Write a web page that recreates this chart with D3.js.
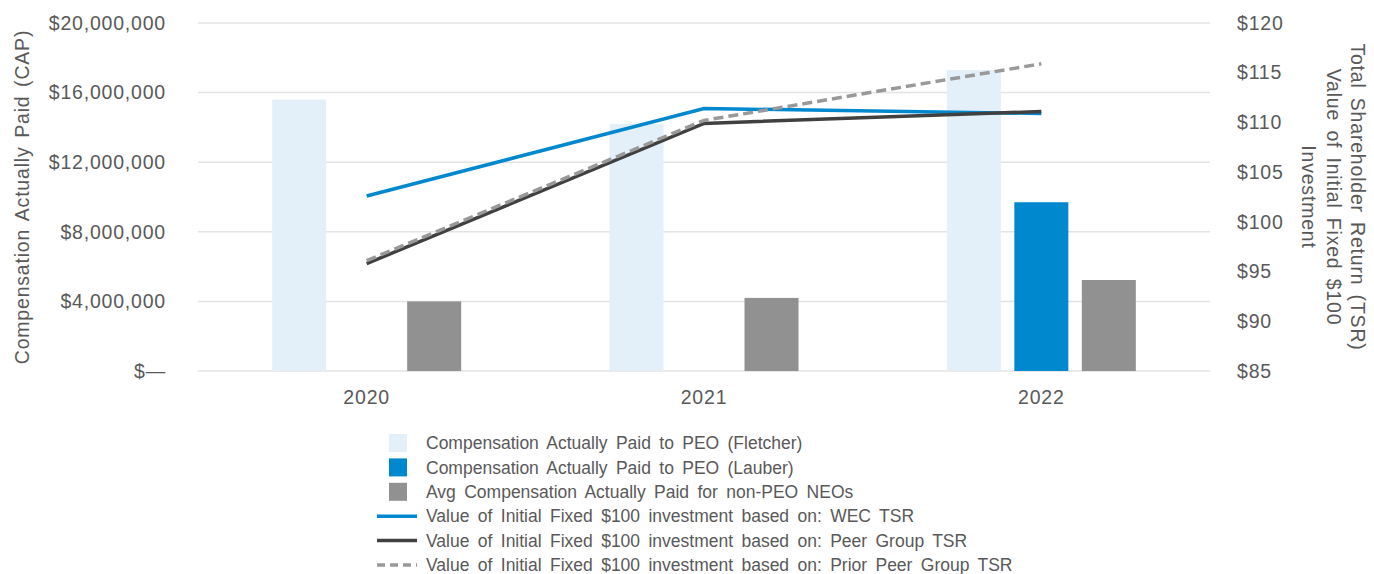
<!DOCTYPE html>
<html>
<head>
<meta charset="utf-8">
<script src="https://cdn.jsdelivr.net/npm/d3@7"></script>
<style>
  html, body { margin: 0; padding: 0; background: #fff; }
  svg { display: block; font-family: "Liberation Sans", Arial, sans-serif; }
</style>
</head>
<body>
<svg id="chart" width="1374" height="574"></svg>
<script>
const categories = ["2020", "2021", "2022"];
const fletcherCAP = [15600000, 14200000, 17300000];
const lauberCAP = [null, null, 9700000];
const neoCAP = [4000000, 4200000, 5230000];
const wecTSR = [102.6, 111.4, 110.9];
const peerTSR = [95.8, 109.9, 111.1];
const priorPeerTSR = [96.1, 110.2, 115.9];
const leftTicks = [0, 4000000, 8000000, 12000000, 16000000, 20000000];
const rightTicks = [85, 90, 95, 100, 105, 110, 115, 120];

const barSeries = [
  { name: "Compensation Actually Paid to PEO (Fletcher)", values: fletcherCAP, color: "#e3f0f9" },
  { name: "Compensation Actually Paid to PEO (Lauber)", values: lauberCAP, color: "#0088ce" },
  { name: "Avg Compensation Actually Paid for non-PEO NEOs", values: neoCAP, color: "#919191" }
];
const lineSeries = [
  { name: "Value of Initial Fixed $100 investment based on: WEC TSR", values: wecTSR, color: "#0088ce", dash: null },
  { name: "Value of Initial Fixed $100 investment based on: Peer Group TSR", values: peerTSR, color: "#404040", dash: null },
  { name: "Value of Initial Fixed $100 investment based on: Prior Peer Group TSR", values: priorPeerTSR, color: "#999999", dash: "10,5" }
];

const textColor = "#595959";
const svg = d3.select("#chart");
const plot = { left: 198, right: 1210, top: 23, bottom: 371 };

const x = d3.scaleBand().domain(categories).range([plot.left, plot.right]).paddingInner(0).paddingOuter(0);
const x1 = d3.scaleBand().domain(barSeries.map(s => s.name)).range([-94.5, 94.5]).paddingInner(0.2).paddingOuter(0);
const yL = d3.scaleLinear().domain([0, 20000000]).range([plot.bottom, plot.top]);
const yR = d3.scaleLinear().domain([85, 120]).range([plot.bottom, plot.top]);

function styleAxisText(sel) {
  sel.attr("fill", textColor).attr("font-size", 19.5)
    .attr("font-family", "Liberation Sans, Arial, sans-serif")
    .attr("letter-spacing", 0.8);
}

// gridlines
svg.append("g").selectAll("line").data(leftTicks).join("line")
  .attr("x1", plot.left).attr("x2", plot.right)
  .attr("y1", d => yL(d)).attr("y2", d => yL(d))
  .attr("stroke", "#e3e3e3").attr("stroke-width", 1.5);

// left axis
const fmtL = d => d === 0 ? "$\u2014" : "$" + d3.format(",")(d);
const axL = svg.append("g").attr("transform", `translate(${plot.left},0)`)
  .call(d3.axisLeft(yL).tickValues(leftTicks).tickFormat(fmtL).tickSize(0).tickPadding(32));
axL.select(".domain").remove();
styleAxisText(axL.selectAll("text"));

// right axis
const axR = svg.append("g").attr("transform", `translate(${plot.right},0)`)
  .call(d3.axisRight(yR).tickValues(rightTicks).tickFormat(d => "$" + d).tickSize(0).tickPadding(27));
axR.select(".domain").remove();
styleAxisText(axR.selectAll("text"));

// x axis
const axX = svg.append("g").attr("transform", `translate(0,${plot.bottom})`)
  .call(d3.axisBottom(x).tickSize(0).tickPadding(19));
axX.select(".domain").remove();
styleAxisText(axX.selectAll("text"));

// bars
barSeries.forEach(s => {
  svg.append("g").selectAll("rect")
    .data(categories.map((c, i) => ({ c, v: s.values[i] })).filter(d => d.v != null))
    .join("rect")
    .attr("x", d => x(d.c) + x.bandwidth() / 2 + x1(s.name))
    .attr("width", x1.bandwidth())
    .attr("y", d => yL(d.v))
    .attr("height", d => yL(0) - yL(d.v))
    .attr("fill", s.color);
});

// lines
const lineGen = d3.line()
  .x((d, i) => x(categories[i]) + x.bandwidth() / 2)
  .y(d => yR(d));
lineSeries.forEach(s => {
  svg.append("path")
    .attr("d", lineGen(s.values))
    .attr("fill", "none")
    .attr("stroke", s.color)
    .attr("stroke-width", 3.5)
    .attr("stroke-dasharray", s.dash);
});

// axis titles
svg.append("text")
  .attr("transform", `translate(29,${(plot.top + plot.bottom) / 2}) rotate(-90)`)
  .attr("text-anchor", "middle")
  .attr("fill", textColor).attr("font-size", 19.5)
  .attr("letter-spacing", 0.8).attr("word-spacing", 2.5)
  .text("Compensation Actually Paid (CAP)");

const rightTitle = ["Total Shareholder Return (TSR)", "Value of Initial Fixed $100", "Investment"];
rightTitle.forEach((t, i) => {
  svg.append("text")
    .attr("transform", `translate(${1351 - i * 24.5},${197}) rotate(90)`)
    .attr("text-anchor", "middle")
    .attr("fill", textColor).attr("font-size", 19.5)
    .attr("letter-spacing", 0.8).attr("word-spacing", 3)
    .text(t);
});

// legend
const legend = svg.append("g");
const rowY = i => 443 + i * 24.4;
barSeries.forEach((s, i) => {
  legend.append("rect").attr("x", 389).attr("y", rowY(i) - 9).attr("width", 18).attr("height", 18).attr("fill", s.color);
  legend.append("text").attr("x", 426).attr("y", rowY(i)).attr("dy", "0.35em")
    .attr("fill", textColor).attr("font-size", 17.5).attr("word-spacing", 3.5).text(s.name);
});
lineSeries.forEach((s, j) => {
  const i = j + 3;
  legend.append("line").attr("x1", 377).attr("x2", 417).attr("y1", rowY(i)).attr("y2", rowY(i))
    .attr("stroke", s.color).attr("stroke-width", 3.5).attr("stroke-dasharray", s.dash ? "8,5" : null);
  legend.append("text").attr("x", 426).attr("y", rowY(i)).attr("dy", "0.35em")
    .attr("fill", textColor).attr("font-size", 17.5).attr("word-spacing", 3.5).text(s.name);
});
</script>
</body>
</html>
